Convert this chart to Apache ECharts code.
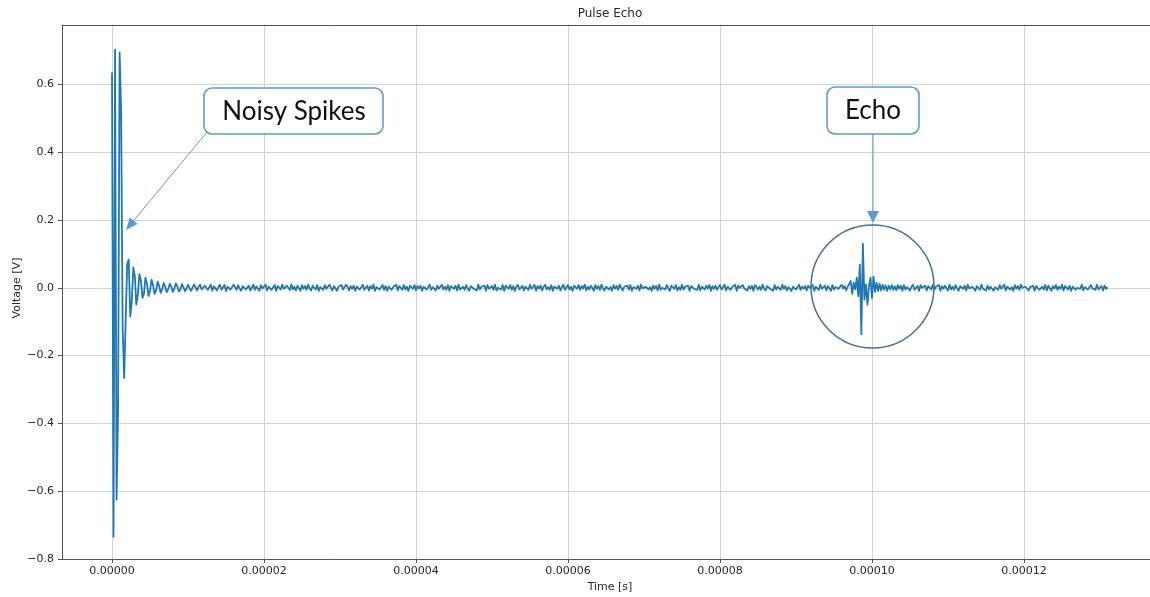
<!DOCTYPE html>
<html>
<head>
<meta charset="utf-8">
<title>Pulse Echo</title>
<script src="https://cdn.jsdelivr.net/npm/echarts@6/dist/echarts.min.js"></script>
<style>
  html, body { margin: 0; padding: 0; background: #ffffff; }
  #chart { width: 1150px; height: 597px; }
</style>
</head>
<body>
<div id="chart"></div>
<script>
// Receiver trace: one sample every 0.2 µs, values in millivolts.
const sampleInterval = 2e-7;
const voltageMv = [
  635,-734,702,-625,-360,694,520,-120,-266,-95,70,83,-85,-40,60,35,-50,-20,40,22,
  -30,-18,30,12,-24,-10,24,8,-18,-8,18,6,-15,-5,14,3,-13,-4,12,4,
  -12,-3,13,4,-11,-5,11,2,-10,-3,9,5,-9,-4,10,1,-8,3,9,-5,
  -8,6,10,-6,-3,9,-9,4,7,-8,2,9,-6,-2,8,-10,3,6,-5,-8,
  9,2,-6,8,-3,-9,5,10,-5,0,6,-8,-3,9,-6,4,2,-9,8,-2,
  -5,9,-8,3,6,-6,-2,8,-9,5,3,-5,9,-3,-8,6,0,-7,10,-5,
  3,-8,6,2,-9,8,-3,5,-6,9,-2,-8,6,3,-5,8,-9,2,5,-6,
  8,-3,-6,9,0,-8,5,6,-9,3,-2,8,-5,-6,9,2,-8,5,-3,6,
  -9,3,8,-5,-2,9,-6,0,6,-8,5,-3,9,-9,2,6,-5,-2,8,-6,
  5,-9,3,8,-6,2,-3,9,-8,5,0,-6,8,-5,3,-9,6,2,-3,8,
  -8,5,-2,6,-9,3,8,-5,-3,9,-6,2,5,-8,6,-3,-2,9,-5,3,
  -6,8,-9,5,2,-3,6,-8,9,-5,0,3,-6,8,-2,-9,5,6,-3,2,
  -8,9,-5,3,-2,6,-9,8,-3,2,5,-6,9,-8,0,3,-5,8,-9,6,
  2,-3,8,-6,5,-9,3,9,-5,-2,6,-8,3,5,-6,9,-3,0,8,-9,
  5,-2,6,-8,3,9,-5,2,-6,8,-9,3,5,-3,6,-8,2,9,-6,-2,
  8,-5,3,-9,6,2,-3,8,-6,5,-2,9,-8,3,-5,6,0,-9,8,-3,
  5,-6,9,-2,-8,3,6,-5,2,-9,8,-3,5,-6,9,0,-8,3,-2,6,
  -5,8,-9,2,5,-3,6,-8,9,-2,-6,3,8,-5,2,-9,6,-3,5,-8,
  9,-6,0,3,-5,8,-2,-9,6,5,-3,8,-8,2,-6,9,-5,3,-2,6,
  -9,5,8,-3,2,-6,9,-8,3,0,-5,6,-2,8,-9,5,-3,6,-6,2,
  8,-5,-2,9,-8,3,5,-6,2,-3,9,-9,6,0,-5,8,-2,3,-8,5,
  -3,6,-9,8,2,-5,3,-6,9,-2,-8,5,6,-3,0,-9,8,-5,3,2,
  -6,9,-3,5,-8,2,6,-9,3,8,-5,-2,9,-6,3,-3,5,-8,6,0,
  -5,8,-9,3,2,-6,9,-3,-2,6,-8,5,3,-9,8,-5,2,6,-3,-6,
  9,-2,5,-8,3,6,20,-18,15,-5,30,-25,68,-137,130,-35,10,-50,5,30,
  -30,33,-12,15,-10,12,-8,9,-6,7,-9,6,-5,8,-6,4,-7,8,-3,6,
  -9,8,-5,2,6,-8,3,9,-6,-2,5,-9,8,0,-3,6,-8,5,2,-5,
  9,-6,3,-2,8,-9,5,-3,6,2,-8,9,-5,3,-6,8,-2,-9,5,3,
  -3,6,-8,9,-2,-5,3,8,-9,5,0,-6,9,-3,2,-8,6,-5,3,8,
  -9,2,5,-6,8,-3,-2,9,-8,3,6,-5,2,-9,8,-3,5,-6,9,0,
  -5,3,8,-8,2,-3,6,-9,5,9,-6,-2,3,-5,8,-8,6,2,-9,5,
  -2,8,-6,3,-3,9,-8,5,2,-5,6,-9,3,8,-6,0,5,-3,9,-8,
  2,6,-5,-9,8,-2,3,-6,9,-5,0,5,-8,6,-3,2
];

// Axis ticks and labels
const timeTicks = [0, 0.00002, 0.00004, 0.00006, 0.00008, 0.00010, 0.00012];
const voltageTicks = [-0.8, -0.6, -0.4, -0.2, 0.0, 0.2, 0.4, 0.6];
const timeRange = [-6.58e-6, 1.3658e-4];
const voltageRange = [-0.8, 0.775];

const titleText = 'Pulse Echo';
const timeAxisName = 'Time [s]';
const voltageAxisName = 'Voltage [V]';
const spikesNote = 'Noisy Spikes';
const echoNote = 'Echo';

const trace = voltageMv.map((mv, i) => [i * sampleInterval, mv / 1000]);

const axisColor = '#555555';
const gridColor = '#d2d2d2';
const textColor = '#262626';
const tickFont = 'DejaVu Sans';
const noteBlue = '#5b9bd5';

function voltLabel(v) {
  const s = Math.abs(v).toFixed(1);
  return v < -1e-9 ? '\u2212' + s : s;
}

const chart = echarts.init(document.getElementById('chart'), null, { renderer: 'canvas' });

chart.setOption({
  animation: false,
  backgroundColor: '#ffffff',
  grid: { left: 62, right: 0, top: 25, bottom: 38, containLabel: false },
  xAxis: [
    {
      type: 'value',
      min: timeRange[0],
      max: timeRange[1],
      axisLine: { show: true, onZero: false, lineStyle: { color: axisColor, width: 1 } },
      axisTick: { show: true, customValues: timeTicks, length: 4, lineStyle: { color: axisColor } },
      axisLabel: {
        customValues: timeTicks,
        formatter: v => v.toFixed(5),
        fontFamily: tickFont, fontSize: 11, color: textColor, margin: 7
      },
      splitLine: { show: true, lineStyle: { color: gridColor, width: 1 } }
    },
    {
      type: 'value',
      position: 'top',
      min: timeRange[0],
      max: timeRange[1],
      axisLine: { show: true, onZero: false, lineStyle: { color: axisColor, width: 1 } },
      axisTick: { show: false },
      axisLabel: { show: false },
      splitLine: { show: false }
    }
  ],
  yAxis: {
    type: 'value',
    min: voltageRange[0],
    max: voltageRange[1],
    axisLine: { show: true, onZero: false, lineStyle: { color: axisColor, width: 1 } },
    axisTick: { show: true, customValues: voltageTicks, length: 4, lineStyle: { color: axisColor } },
    axisLabel: {
      customValues: voltageTicks,
      formatter: voltLabel,
      fontFamily: tickFont, fontSize: 11, color: textColor, margin: 8
    },
    splitLine: { show: true, lineStyle: { color: gridColor, width: 1 } }
  },
  series: [{
    type: 'line',
    data: trace,
    showSymbol: false,
    symbol: 'none',
    sampling: false,
    lineStyle: { color: '#1f77b4', width: 1.8, join: 'round' },
    z: 3
  }],
  graphic: [
    { type: 'text', x: 610, y: 14, z: 10,
      style: { text: titleText, fontFamily: tickFont, fontSize: 12, fill: textColor, align: 'center', verticalAlign: 'middle' } },
    { type: 'text', x: 610, y: 587, z: 10,
      style: { text: timeAxisName, fontFamily: tickFont, fontSize: 11, fill: textColor, align: 'center', verticalAlign: 'middle' } },
    { type: 'text', x: 17, y: 288, rotation: Math.PI / 2, z: 10,
      style: { text: voltageAxisName, fontFamily: tickFont, fontSize: 11, fill: textColor, align: 'center', verticalAlign: 'middle' } },

    // "Noisy Spikes" callout
    { type: 'line', z: 20, shape: { x1: 207, y1: 132, x2: 133.6, y2: 220.7 },
      style: { stroke: noteBlue, lineWidth: 1 } },
    { type: 'polygon', z: 20, shape: { points: [[126, 230], [137.5, 223.9], [129.8, 217.6]] },
      style: { fill: noteBlue } },
    { type: 'rect', z: 21, shape: { x: 204, y: 88, width: 179, height: 46, r: 8 },
      style: { fill: '#ffffff', stroke: noteBlue, lineWidth: 1.6 } },
    { type: 'text', x: 294, y: 112, z: 22,
      style: { text: spikesNote, fontFamily: 'Lato', fontSize: 26, fill: '#111111', align: 'center', verticalAlign: 'middle' } },

    // "Echo" callout
    { type: 'line', z: 20, shape: { x1: 873, y1: 134, x2: 873, y2: 212 },
      style: { stroke: noteBlue, lineWidth: 1 } },
    { type: 'polygon', z: 20, shape: { points: [[873, 223], [867, 211], [879, 211]] },
      style: { fill: noteBlue } },
    { type: 'rect', z: 21, shape: { x: 827, y: 87, width: 92, height: 47, r: 8 },
      style: { fill: '#ffffff', stroke: noteBlue, lineWidth: 1.6 } },
    { type: 'text', x: 873, y: 111, z: 22,
      style: { text: echoNote, fontFamily: 'Lato', fontSize: 26, fill: '#111111', align: 'center', verticalAlign: 'middle' } },
    { type: 'circle', z: 20, shape: { cx: 872.5, cy: 286.5, r: 61.5 },
      style: { fill: 'none', stroke: '#41719c', lineWidth: 1.5 } }
  ]
});
</script>
</body>
</html>
